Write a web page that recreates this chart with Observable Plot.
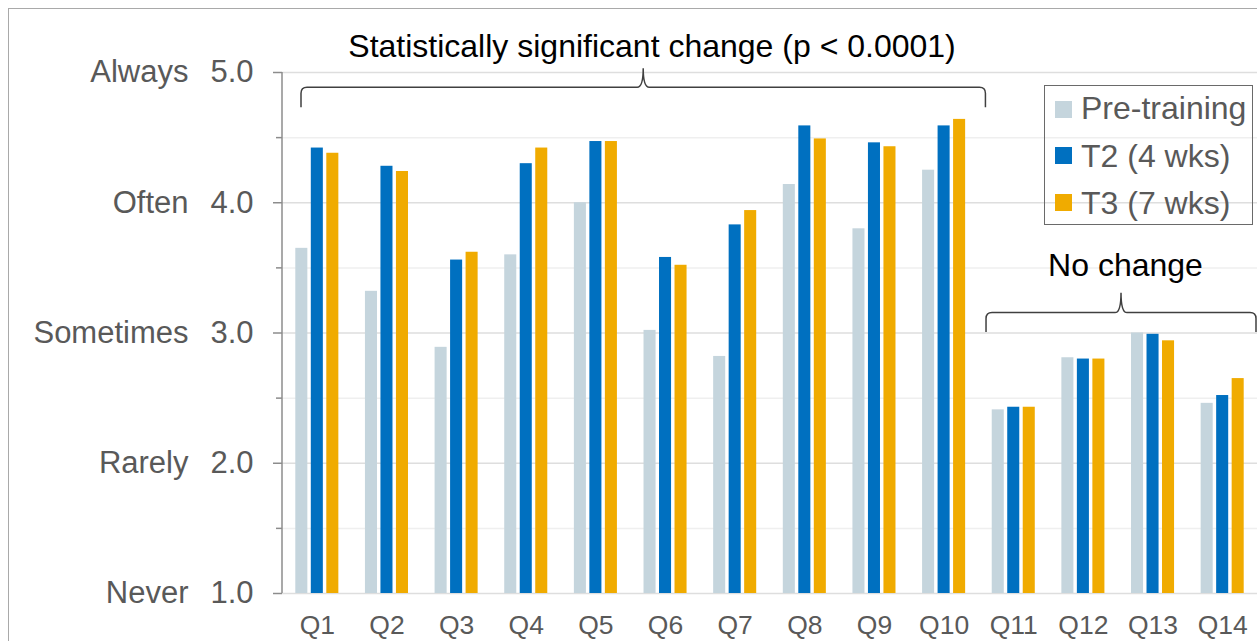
<!DOCTYPE html>
<html>
<head>
<meta charset="utf-8">
<script src="https://cdn.jsdelivr.net/npm/d3@7"></script>
<script src="https://cdn.jsdelivr.net/npm/@observablehq/plot@0.6"></script>
<style>
  html, body { margin: 0; padding: 0; background: #ffffff; }
  #wrap { position: relative; width: 1257px; height: 641px; overflow: hidden; font-family: "Liberation Sans", Arial, sans-serif; }
  #frame { position: absolute; left: 8px; top: 8px; width: 1400px; height: 800px; border-left: 1.5px solid #a9a9a9; border-top: 1.5px solid #a9a9a9; }
  #chart { position: absolute; left: 0; top: 0; }
  #legend { position: absolute; left: 1044px; top: 85px; width: 209px; height: 140px; box-sizing: border-box; border: 1.5px solid #6a6a6a; }
  .sw { position: absolute; width: 17px; height: 17px; }
  .lt { position: absolute; font-size: 32px; line-height: 32px; color: #595959; white-space: nowrap; }
</style>
</head>
<body>
<div id="wrap">
  <div id="frame"></div>
  <div id="chart"></div>
  <div id="legend"></div>
</div>
<script>
// ---- data ----
const questions = ["Q1","Q2","Q3","Q4","Q5","Q6","Q7","Q8","Q9","Q10","Q11","Q12","Q13","Q14"];
const seriesNames = ["Pre-training", "T2 (4 wks)", "T3 (7 wks)"];
const preTraining = [3.65, 3.32, 2.89, 3.60, 4.00, 3.02, 2.82, 4.14, 3.80, 4.25, 2.41, 2.81, 3.00, 2.46];
const t2Values    = [4.42, 4.28, 3.56, 4.30, 4.47, 3.58, 3.83, 4.59, 4.46, 4.59, 2.43, 2.80, 2.99, 2.52];
const t3Values    = [4.38, 4.24, 3.62, 4.42, 4.47, 3.52, 3.94, 4.49, 4.43, 4.64, 2.43, 2.80, 2.94, 2.65];
const yTicks = [1, 2, 3, 4, 5];
const yMinorTicks = [1.5, 2.5, 3.5, 4.5];
const yLabels = ["Never", "Rarely", "Sometimes", "Often", "Always"];
const titleText = "Statistically significant change (p < 0.0001)";
const noChangeText = "No change";

// ---- styles ----
const seriesColors = ["#C5D5DD", "#0070C0", "#F0AB00"];
const textGray = "#595959";
const font = "'Liberation Sans', Arial, sans-serif";

const seriesValues = [preTraining, t2Values, t3Values];
const rows = [];
seriesNames.forEach((s, si) => questions.forEach((q, qi) => rows.push({q, series: s, si, v: seriesValues[si][qi]})));

// bar placement inside each band (left/right insets)
const insets = [[13.3, 44.3], [28.8, 28.8], [44.3, 13.3]];

// braces (annotation): span groups of questions
const braceDefs = [
  {from: "Q1", to: "Q10", padL: 19, padR: 7, yLine: 4.883, yEnd: 4.729, yPeak: 5.029},
  {from: "Q11", to: "Q14", padL: 7.6, padR: -1, yLine: 3.153, yEnd: 3.004, yPeak: 3.306}
];

function annotations(index, scales, values, dimensions) {
  const x = scales.x, y = scales.y;
  const bw = (x && typeof x.bandwidth === "function") ? x.bandwidth()
    : (dimensions.width - dimensions.marginLeft - dimensions.marginRight) / questions.length;
  const g = d3.create("svg:g");
  // vertical axis line
  g.append("line")
    .attr("x1", dimensions.marginLeft).attr("x2", dimensions.marginLeft)
    .attr("y1", y(5)).attr("y2", y(1))
    .attr("stroke", "#8c8c8c").attr("stroke-width", 1.5);
  for (const b of braceDefs) {
    const x0 = x(b.from) + b.padL;
    const x1 = x(b.to) + bw + b.padR;
    const cx = (x0 + x1) / 2;
    const yl = y(b.yLine), yb = y(b.yEnd), yp = y(b.yPeak);
    const r = 6;
    const p = d3.path();
    p.moveTo(x0, yb);
    p.lineTo(x0, yl + r);
    p.quadraticCurveTo(x0, yl, x0 + r, yl);
    p.lineTo(cx - 6, yl);
    p.quadraticCurveTo(cx, yl, cx, yp);
    p.quadraticCurveTo(cx, yl, cx + 6, yl);
    p.lineTo(x1 - r, yl);
    p.quadraticCurveTo(x1, yl, x1, yl + r);
    p.lineTo(x1, yb);
    g.append("path").attr("d", p.toString())
      .attr("fill", "none").attr("stroke", "#404040").attr("stroke-width", 1.5);
  }
  return g.node();
}

const plot = Plot.plot({
  width: 1257,
  height: 641,
  marginLeft: 282,
  marginRight: 0,
  marginTop: 72,
  marginBottom: 48,
  style: {fontFamily: font, color: textGray, background: "transparent", overflow: "visible"},
  x: {domain: questions, padding: 0, round: false, label: null},
  y: {domain: [1, 5], label: null},
  color: {domain: seriesNames, range: seriesColors},
  marks: [
    Plot.ruleY(yMinorTicks, {stroke: "#efefef", strokeWidth: 1.5}),
    Plot.ruleY(yTicks, {stroke: "#dedede", strokeWidth: 1.5}),
    ...seriesNames.map((s, si) => Plot.barY(rows.filter(d => d.si === si), {
      x: "q", y1: 1, y2: "v", fill: "series",
      insetLeft: insets[si][0], insetRight: insets[si][1]
    })),
    Plot.axisY({ticks: yTicks, tickSize: 9, tickPadding: 20, tickFormat: d => d.toFixed(1),
      fontSize: 31, fill: textGray, stroke: "#8c8c8c", strokeWidth: 1.5}),
    Plot.axisY({ticks: yMinorTicks, tickSize: 6, tickFormat: () => "", stroke: "#8c8c8c", strokeWidth: 1.5}),
    Plot.text(yTicks, {y: d => d, text: (d, i) => yLabels[i], frameAnchor: "left", dx: -94,
      textAnchor: "end", fontSize: 31, fill: textGray}),
    Plot.axisX({tickSize: 0, tickPadding: 22, fontSize: 26.5, fill: textGray}),
    Plot.text([titleText], {frameAnchor: "top", dx: -118, dy: -38, text: d => d,
      fontSize: 32, fill: "#000000", textAnchor: "middle"}),
    Plot.text([noChangeText], {frameAnchor: "top-right", dx: -132, dy: 181, text: d => d,
      fontSize: 32, fill: "#000000", textAnchor: "middle"}),
    annotations
  ]
});
document.getElementById("chart").appendChild(plot);

// legend
const legend = document.getElementById("legend");
const swTop = [15, 61, 108];
const txtTop = [5.5, 54, 101];
seriesNames.forEach((s, i) => {
  const sw = document.createElement("div");
  sw.className = "sw";
  sw.style.left = "10px";
  sw.style.top = swTop[i] + "px";
  sw.style.background = seriesColors[i];
  legend.appendChild(sw);
  const t = document.createElement("div");
  t.className = "lt";
  t.style.left = "36px";
  t.style.top = txtTop[i] + "px";
  t.textContent = s;
  legend.appendChild(t);
});
</script>
</body>
</html>
